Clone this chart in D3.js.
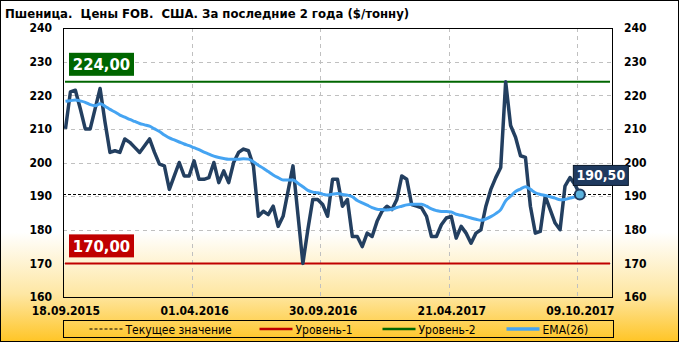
<!DOCTYPE html>
<html>
<head>
<meta charset="utf-8">
<script src="https://cdn.jsdelivr.net/npm/d3@7"></script>
<style>
  body { margin: 0; background: #fff; }
  svg text { font-family: "DejaVu Sans Condensed", "DejaVu Sans", sans-serif; font-stretch: condensed; }
</style>
</head>
<body>
<div id="chart"></div>
<script>
// chart data
var title = "Пшеница.  Цены FOB.  США. За последние 2 года ($/тонну)";

var xTickIndex = [0, 26, 52, 78, 104];
var xTickLabels = ["18.09.2015", "01.04.2016", "30.09.2016", "21.04.2017", "09.10.2017"];
var yTicks = [160, 170, 180, 190, 200, 210, 220, 230, 240];

var prices = [
  210, 221, 221.5, 216, 210, 210, 216, 222, 212, 203,
  203.5, 203, 207, 206, 204.5, 203, 205, 207, 203, 199.5,
  199, 192, 196, 200, 196, 196, 200.5, 195, 195, 195.5,
  200, 194, 197.5, 194, 200, 203, 204, 203.5, 199, 184,
  185.5, 184.5, 187, 181, 184, 191.5, 199, 184.5, 170, 180,
  189, 189, 187.5, 184, 195, 195, 187, 189, 178, 178,
  175, 179, 178, 182.5, 185.5, 187, 186, 189, 196, 195,
  187.5, 187, 186.5, 184, 178, 178, 181.5, 183.5, 184, 177.5,
  181, 179, 176, 179, 180, 187, 192, 195.5, 198.5, 224,
  211, 207.5, 202, 201.5, 187, 179, 179.5, 190, 186, 182,
  180, 193, 195.5, 193.5, 190.5
];

var ema26 = [
  218.2, 218.4, 218.6, 218.3, 217.9, 217.2, 216.9, 217.5, 216.7, 215.8,
  215, 214.1, 213.5, 212.8, 212.2, 211.6, 211.2, 210.8, 210, 209.2,
  208.2, 207.3, 206.7, 206.1, 205.5, 205, 204.4, 203.8, 203.1, 202.5,
  201.9, 201.5, 201.2, 201, 201, 201, 201.1, 201, 200.2, 199.2,
  198.3, 197.3, 196.3, 195.5, 194.8, 194.8, 194.8, 193.8, 192.8, 191.7,
  191.2, 191, 190.6, 190.3, 190.6, 190.8, 190.5, 190.3, 189.8, 188.7,
  188, 187.3, 186.6, 186.1, 186, 185.9, 186.1, 186.6, 187, 187.4,
  187.6, 187.6, 187.6, 187, 186.2, 185.7, 185.4, 185.4, 185.3, 184.6,
  184.3, 183.9, 183.5, 183.1, 182.8, 183.2, 183.9, 184.8, 186, 188.6,
  190, 191.4, 192.1, 192.8, 192, 191, 190.5, 190.2, 189.8, 189.4,
  188.9, 189, 189.4, 189.8, 190.3
];

var levels = [
  {name: "Уровень-1", value: 170, color: "#c00000"},
  {name: "Уровень-2", value: 224, color: "#006600"}
];
var currentValue = 190.5;

var legendItems = [
  {name: "Текущее значение", color: "#000", dash: "3,2", width: 1},
  {name: "Уровень-1", color: "#c00000", dash: null, width: 2.5},
  {name: "Уровень-2", color: "#006600", dash: null, width: 2.5},
  {name: "EMA(26)", color: "#45a4f2", dash: null, width: 3.5}
];

function fmt(v) {
  return v.toFixed(2).replace(".", ",");
}

var w = 679, h = 342;
var plotL = 63, plotR = 612, plotT = 28, plotB = 297;

var svg = d3.select("#chart")
  .append("svg")
  .attr("width", w)
  .attr("height", h);

// background gradient
var grad = svg.append("defs").append("linearGradient")
  .attr("id", "bg")
  .attr("x1", 0).attr("y1", 0).attr("x2", 0).attr("y2", 1);
grad.append("stop").attr("offset", "0").attr("stop-color", "#ffffff");
grad.append("stop").attr("offset", "0.68").attr("stop-color", "#ffffff");
grad.append("stop").attr("offset", "0.86").attr("stop-color", "#fee7a4");
grad.append("stop").attr("offset", "1").attr("stop-color", "#ffc526");

svg.append("rect")
  .attr("x", 0.5).attr("y", 0.5)
  .attr("width", w - 1).attr("height", h - 1)
  .attr("fill", "url(#bg)")
  .attr("stroke", "#000");

svg.append("text")
  .attr("x", 5)
  .attr("y", 18)
  .style("font-size", "13px")
  .style("font-weight", "bold")
  .style("white-space", "pre")
  .text(title);

var x = d3.scaleLinear().domain([0, 111]).range([plotL, plotR]);
var y = d3.scaleLinear().domain([160, 240]).range([plotB, plotT]);

// grid
svg.append("g")
  .selectAll("line")
  .data(yTicks.filter(function (d) { return d > 160 && d < 240; }))
  .enter()
  .append("line")
  .attr("x1", plotL).attr("x2", plotR)
  .attr("y1", function (d) { return Math.round(y(d)) + 0.5; })
  .attr("y2", function (d) { return Math.round(y(d)) + 0.5; })
  .attr("stroke", "#c0c0c0")
  .attr("stroke-dasharray", "4,4");

svg.append("g")
  .selectAll("line")
  .data(xTickIndex.slice(1))
  .enter()
  .append("line")
  .attr("x1", function (d) { return Math.round(x(d)) + 0.5; })
  .attr("x2", function (d) { return Math.round(x(d)) + 0.5; })
  .attr("y1", plotT).attr("y2", plotB)
  .attr("stroke", "#c0c0c0")
  .attr("stroke-dasharray", "4,4");

// axes (labels only)
var yLeft = d3.axisLeft(y).tickValues(yTicks).tickSize(0).tickPadding(11);
var yRight = d3.axisRight(y).tickValues(yTicks).tickSize(0).tickPadding(12);

var gl = svg.append("g").attr("transform", "translate(" + plotL + ",0)").call(yLeft);
var gr = svg.append("g").attr("transform", "translate(" + plotR + ",0)").call(yRight);
[gl, gr].forEach(function (g) {
  g.select(".domain").remove();
  g.selectAll("text")
    .style("font-size", "12px")
    .style("font-weight", "bold")
    .attr("fill", "#000");
});

var xAxis = d3.axisBottom(x)
  .tickValues(xTickIndex.map(function (d) { return d + 0.5; }))
  .tickFormat(function (d, i) { return xTickLabels[i]; })
  .tickSize(0)
  .tickPadding(9);
var gx = svg.append("g").attr("transform", "translate(0," + plotB + ")").call(xAxis);
gx.select(".domain").remove();
gx.selectAll("text")
  .style("font-size", "12px")
  .style("font-weight", "bold")
  .attr("fill", "#000");

// level lines
svg.append("g")
  .selectAll("line")
  .data(levels)
  .enter()
  .append("line")
  .attr("x1", plotL + 2).attr("x2", plotR - 2)
  .attr("y1", function (d) { return y(d.value); })
  .attr("y2", function (d) { return y(d.value); })
  .attr("stroke", function (d) { return d.color; })
  .attr("stroke-width", 2);

// current value line
svg.append("line")
  .attr("x1", plotL).attr("x2", plotR)
  .attr("y1", Math.round(y(currentValue)) + 0.5)
  .attr("y2", Math.round(y(currentValue)) + 0.5)
  .attr("stroke", "#000")
  .attr("stroke-dasharray", "3,2");

// price + ema
var line = d3.line()
  .x(function (d, i) { return x(i + 0.5); })
  .y(function (d) { return y(d); });

svg.append("path")
  .datum(prices)
  .attr("d", line)
  .attr("fill", "none")
  .attr("stroke", "#233f60")
  .attr("stroke-width", 3.5)
  .attr("stroke-linejoin", "round");

svg.append("path")
  .datum(ema26)
  .attr("d", line.curve(d3.curveMonotoneX))
  .attr("fill", "none")
  .attr("stroke", "#45a4f2")
  .attr("stroke-width", 3)
  .attr("stroke-linejoin", "round");

// plot border
svg.append("rect")
  .attr("x", plotL + 0.5).attr("y", plotT + 0.5)
  .attr("width", plotR - plotL).attr("height", plotB - plotT)
  .attr("fill", "none")
  .attr("stroke", "#000");

// level labels
var levelLabels = svg.append("g")
  .selectAll("g")
  .data(levels)
  .enter()
  .append("g")
  .attr("transform", function (d) { return "translate(69," + (y(d.value) - 29) + ")"; });

levelLabels.append("rect")
  .attr("width", 65).attr("height", 23)
  .attr("fill", function (d) { return d.color; });

levelLabels.append("text")
  .attr("x", 32.5).attr("y", 17.5)
  .attr("text-anchor", "middle")
  .attr("fill", "#fff")
  .style("font-size", "16.5px")
  .style("font-weight", "bold")
  .text(function (d) { return fmt(d.value); });

// last point marker + label
var lastI = prices.length - 1;
var lx = x(lastI + 0.5), ly = y(prices[lastI]);

var cur = svg.append("g").attr("transform", "translate(" + (lx - 6.5) + "," + (ly - 29) + ")");
cur.append("rect")
  .attr("width", 55).attr("height", 20)
  .attr("fill", "#1f3a5f")
  .attr("stroke", "#0b1a2c");
cur.append("text")
  .attr("x", 27.5).attr("y", 15)
  .attr("text-anchor", "middle")
  .attr("fill", "#fff")
  .style("font-size", "14px")
  .style("font-weight", "bold")
  .text(fmt(prices[lastI]));

svg.append("circle")
  .attr("cx", lx).attr("cy", ly)
  .attr("r", 5)
  .attr("fill", "#5cb3de")
  .attr("stroke", "#1f3a5f")
  .attr("stroke-width", 2);

// legend
var legend = svg.append("g").attr("transform", "translate(63.5,320.5)");
legend.append("rect")
  .attr("width", 550).attr("height", 17)
  .attr("fill", "none")
  .attr("stroke", "#000");

var legendX = [26, 196, 319, 443];
var li = legend.selectAll("g.item")
  .data(legendItems)
  .enter()
  .append("g")
  .attr("class", "item")
  .attr("transform", function (d, i) { return "translate(" + legendX[i] + ",8.5)"; });

li.append("line")
  .attr("x1", 0).attr("x2", 33)
  .attr("stroke", function (d) { return d.color; })
  .attr("stroke-width", function (d) { return d.width; })
  .attr("stroke-dasharray", function (d) { return d.dash; });

li.append("text")
  .attr("x", 36).attr("y", 4.5)
  .style("font-size", "12px")
  .text(function (d) { return d.name; });
</script>
</body>
</html>
